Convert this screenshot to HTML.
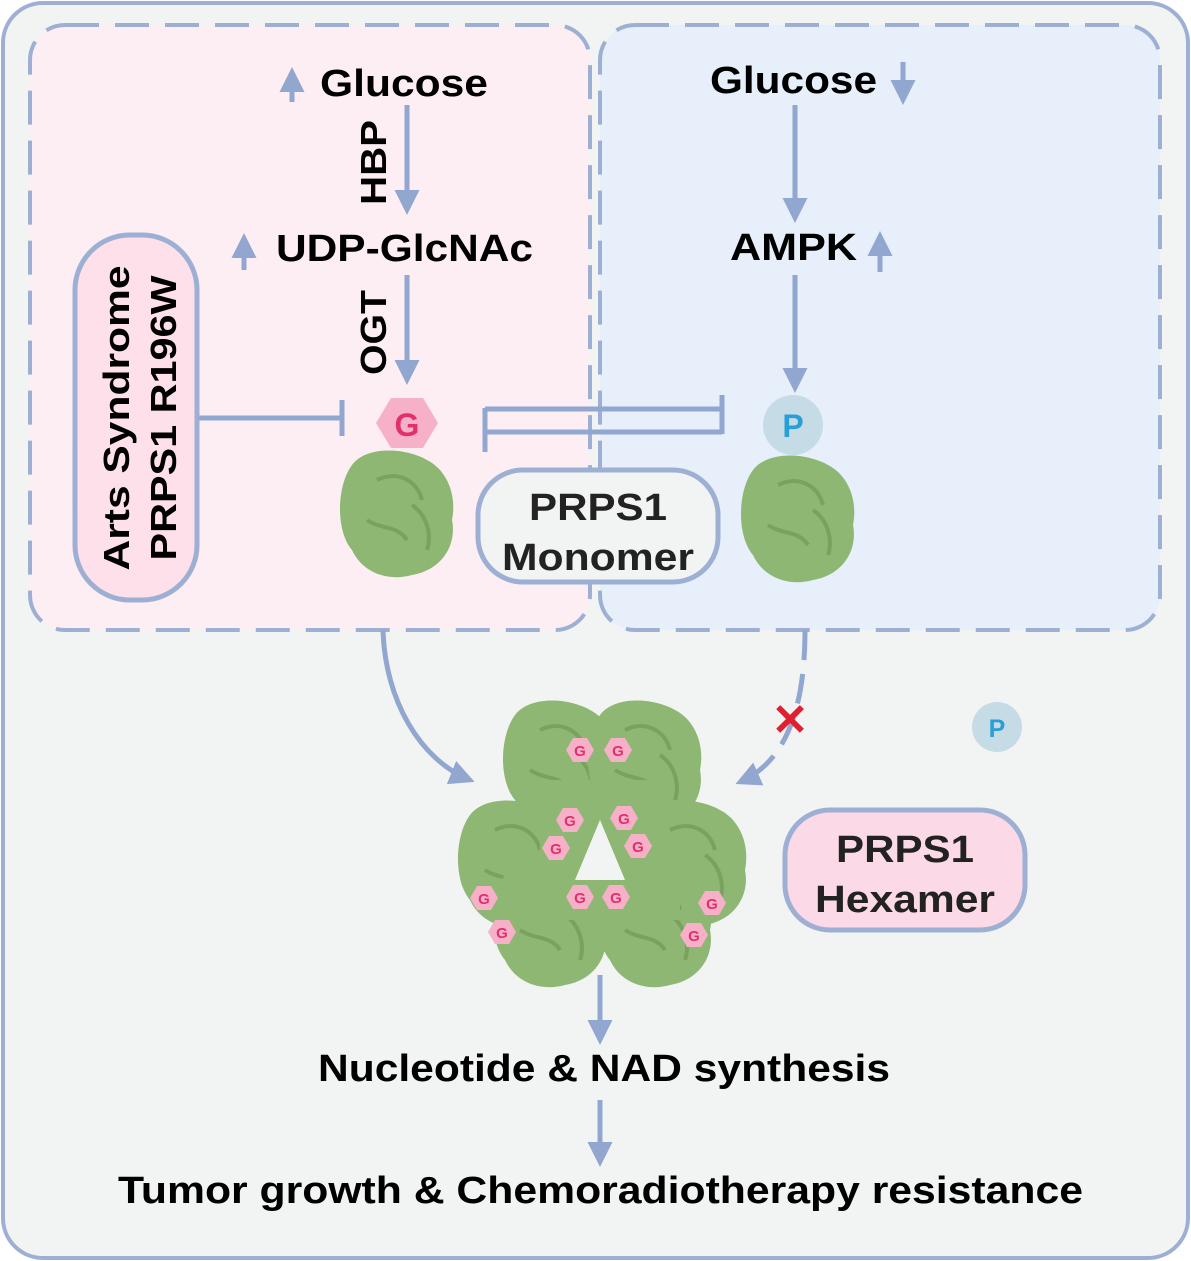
<!DOCTYPE html>
<html><head><meta charset="utf-8"><style>
html,body{margin:0;padding:0;background:#fff}
svg{display:block}
text{font-family:"Liberation Sans",Arial,sans-serif;font-weight:bold}
</style></head><body>
<svg width="1191" height="1261" viewBox="0 0 1191 1261" xmlns="http://www.w3.org/2000/svg">
<defs>
<marker id="ah" viewBox="0 0 10 10" refX="8" refY="5" markerWidth="5" markerHeight="5" orient="auto"><path d="M0,0 L10,5 L0,10 z" fill="#91a7d0"/></marker>
<g id="blob">
<path d="M-45,-45 C-30,-65 10,-62 30,-50 C50,-40 60,-15 55,10 C60,35 45,60 15,65 C-10,72 -35,62 -45,40 C-62,20 -60,-25 -45,-45 Z" fill="#8fb774"/>
<path d="M-20,-30 C0,-40 20,-30 25,-10 M-30,10 C-15,20 0,15 10,30 M15,-5 C30,5 35,25 30,40" stroke="#7aa25f" stroke-width="4" fill="none"/>
</g>
<g id="gh">
<polygon points="-14,0 -7,-12 7,-12 14,0 7,12 -7,12" fill="#f6b0c8"/>
<text x="0" y="6" font-size="15" fill="#e0306e" text-anchor="middle">G</text>
</g>
</defs>
<rect x="3" y="3" width="1185" height="1255" rx="40" fill="#f2f4f4" stroke="#9db0d4" stroke-width="4"/>
<rect x="30" y="25" width="560" height="605" rx="35" fill="#fdeef3" stroke="#9db0d4" stroke-width="4" stroke-dasharray="34 16"/>
<rect x="600" y="25" width="560" height="605" rx="35" fill="#e6effa" stroke="#9db0d4" stroke-width="4" stroke-dasharray="34 16"/>

<g fill="#91a7d0" stroke="#91a7d0" stroke-width="5">
<line x1="292" y1="102" x2="292" y2="72" marker-end="url(#ah)"/>
<line x1="244" y1="270" x2="244" y2="238" marker-end="url(#ah)"/>
<line x1="903" y1="62" x2="903" y2="100" marker-end="url(#ah)"/>
<line x1="880" y1="272" x2="880" y2="236" marker-end="url(#ah)"/>
<line x1="407" y1="105" x2="407" y2="210" marker-end="url(#ah)"/>
<line x1="407" y1="275" x2="407" y2="380" marker-end="url(#ah)"/>
<line x1="795" y1="105" x2="795" y2="218" marker-end="url(#ah)"/>
<line x1="795" y1="275" x2="795" y2="388" marker-end="url(#ah)"/>
<line x1="197" y1="418" x2="340" y2="418"/>
<line x1="342" y1="400" x2="342" y2="436"/>
<line x1="485" y1="408" x2="485" y2="452"/>
<line x1="485" y1="432" x2="722" y2="432"/>
<line x1="485" y1="409" x2="722" y2="409"/>
<line x1="722" y1="395" x2="722" y2="434"/>
<line x1="600" y1="975" x2="600" y2="1040" marker-end="url(#ah)"/>
<line x1="600" y1="1100" x2="600" y2="1162" marker-end="url(#ah)"/>
<path d="M383,630 C385,700 420,760 470,780" fill="none" marker-end="url(#ah)"/>
<path d="M805,630 C805,700 790,760 740,782" fill="none" stroke-dasharray="30 14" marker-end="url(#ah)"/>
</g>
<text x="790" y="735" font-size="44" fill="#e02030" text-anchor="middle">✕</text>

<text x="320" y="96" font-size="38" textLength="168" lengthAdjust="spacingAndGlyphs">Glucose</text>
<text x="710" y="93" font-size="38" textLength="167" lengthAdjust="spacingAndGlyphs">Glucose</text>
<text x="276" y="261" font-size="38" textLength="257" lengthAdjust="spacingAndGlyphs">UDP-GlcNAc</text>
<text x="730" y="260" font-size="38" textLength="127" lengthAdjust="spacingAndGlyphs">AMPK</text>
<text transform="translate(386,205) rotate(-90)" font-size="36" textLength="85" lengthAdjust="spacingAndGlyphs">HBP</text>
<text transform="translate(386,375) rotate(-90)" font-size="36" textLength="85" lengthAdjust="spacingAndGlyphs">OGT</text>

<rect x="75" y="235" width="122" height="365" rx="55" fill="#fde0ea" stroke="#9db0d4" stroke-width="5"/>
<text transform="translate(129,418) rotate(-90)" font-size="36" text-anchor="middle" textLength="305" lengthAdjust="spacingAndGlyphs">Arts Syndrome</text>
<text transform="translate(176,418) rotate(-90)" font-size="36" text-anchor="middle" textLength="285" lengthAdjust="spacingAndGlyphs">PRPS1 R196W</text>

<use href="#blob" x="397" y="510"/>
<use href="#blob" x="798" y="515"/>
<polygon points="376,423 391,398 423,398 438,423 423,448 391,448" fill="#f6b0c8"/>
<text x="407" y="436" font-size="32" fill="#e0306e" text-anchor="middle">G</text>
<circle cx="793" cy="425" r="30" fill="#c5dbe6"/>
<text x="793" y="437" font-size="32" fill="#2a9fd6" text-anchor="middle">P</text>

<rect x="478" y="470" width="240" height="112" rx="45" fill="#f2f4f4" stroke="#9db0d4" stroke-width="5"/>
<text x="598" y="520" font-size="38" text-anchor="middle" fill="#222" textLength="138" lengthAdjust="spacingAndGlyphs">PRPS1</text>
<text x="598" y="570" font-size="38" text-anchor="middle" fill="#222" textLength="192" lengthAdjust="spacingAndGlyphs">Monomer</text>

<circle cx="997" cy="727" r="25" fill="#c5dbe6"/>
<text x="997" y="737" font-size="25" fill="#2a9fd6" text-anchor="middle">P</text>

<use href="#blob" x="560" y="760"/>
<use href="#blob" x="645" y="760"/>
<use href="#blob" x="515" y="860"/>
<use href="#blob" x="690" y="860"/>
<use href="#blob" x="550" y="920"/>
<use href="#blob" x="655" y="920"/>
<rect x="520" y="850" width="160" height="70" fill="#8fb774"/>
<rect x="540" y="780" width="120" height="80" fill="#8fb774"/>
<polygon points="600,820 575,880 625,880" fill="#f2f4f4"/>
<use href="#gh" x="580" y="750"/><use href="#gh" x="618" y="750"/>
<use href="#gh" x="570" y="820"/><use href="#gh" x="556" y="848"/>
<use href="#gh" x="624" y="818"/><use href="#gh" x="638" y="846"/>
<use href="#gh" x="580" y="897"/><use href="#gh" x="616" y="897"/>
<use href="#gh" x="484" y="898"/><use href="#gh" x="502" y="932"/>
<use href="#gh" x="712" y="903"/><use href="#gh" x="694" y="935"/>

<rect x="785" y="810" width="240" height="120" rx="45" fill="#fcd9e6" stroke="#9db0d4" stroke-width="5"/>
<text x="905" y="862" font-size="38" text-anchor="middle" fill="#222" textLength="138" lengthAdjust="spacingAndGlyphs">PRPS1</text>
<text x="905" y="912" font-size="38" text-anchor="middle" fill="#222" textLength="180" lengthAdjust="spacingAndGlyphs">Hexamer</text>

<text x="318" y="1081" font-size="38" textLength="572" lengthAdjust="spacingAndGlyphs">Nucleotide &amp; NAD synthesis</text>
<text x="118" y="1203" font-size="38" textLength="965" lengthAdjust="spacingAndGlyphs">Tumor growth &amp; Chemoradiotherapy resistance</text>
</svg>
</body></html>
